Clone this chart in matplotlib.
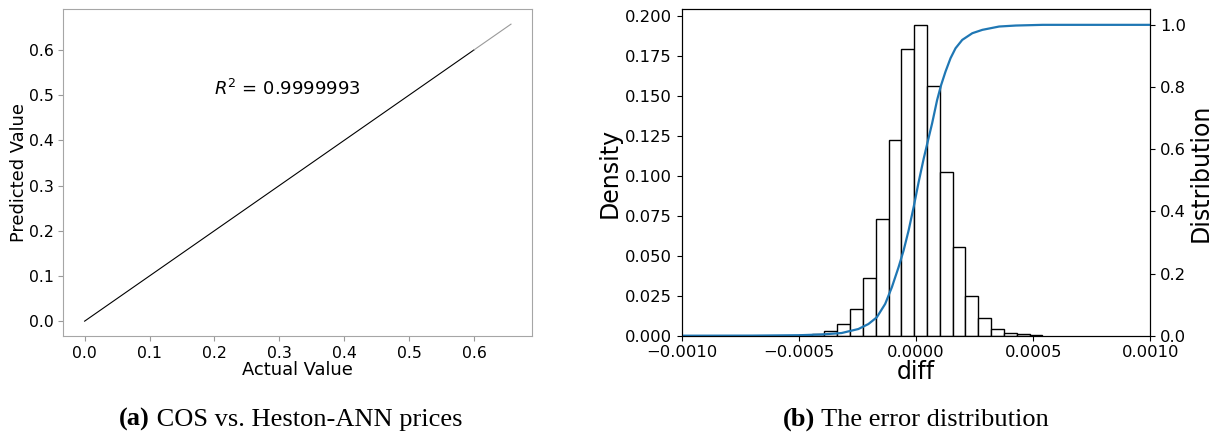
import matplotlib
matplotlib.use("Agg")
import matplotlib.pyplot as plt
import numpy as np

# ---- data: panel (a) ----
actual_value = [0.0, 0.1, 0.2, 0.3, 0.4, 0.5, 0.6, 0.657]
predicted_value = [0.0, 0.1, 0.2, 0.3, 0.4, 0.5, 0.6, 0.657]
r_squared = "0.9999993"
ticks_a = [0.0, 0.1, 0.2, 0.3, 0.4, 0.5, 0.6]

# ---- data: panel (b) ----
bin_edges = [-0.000500, -0.000445, -0.000391, -0.000336, -0.000281, -0.000227,
             -0.000172, -0.000117, -0.000062, -0.000008, 0.000047, 0.000102,
             0.000156, 0.000211, 0.000266, 0.000321, 0.000375, 0.000430,
             0.000485, 0.000539]
bin_heights = [0.0005, 0.0010, 0.0027, 0.0074, 0.0164, 0.0358, 0.0730, 0.1224,
               0.1793, 0.1944, 0.1562, 0.1022, 0.0556, 0.0250, 0.0109, 0.0040,
               0.0017, 0.0008, 0.0003]
cdf_x = [-0.0010, -0.0007, -0.0005, -0.0004, -0.0003176, -0.000246, -0.000203,
         -0.0001674, -0.0001316, -0.000103, -0.0000744, -0.0000529, -0.0000315,
         -0.0000100, 0.0000114, 0.0000329, 0.0000515, 0.0000687, 0.0000901,
         0.0001073, 0.0001259, 0.0001473, 0.0001688, 0.0001974, 0.0002404,
         0.0002833, 0.0003548, 0.0004263, 0.0005408, 0.0010]
cdf_y = [0.0, 0.0003, 0.0015, 0.004, 0.0086, 0.0215, 0.0376, 0.0591, 0.1022,
         0.1559, 0.2204, 0.2742, 0.3387, 0.4140, 0.4946, 0.5699, 0.6290, 0.6828,
         0.7581, 0.8065, 0.8495, 0.8925, 0.9247, 0.9516, 0.9731, 0.9839, 0.9946,
         0.9978, 1.0, 1.0]
xticks_b = [-0.0010, -0.0005, 0.0, 0.0005, 0.0010]
xticklabels_b = ["\u22120.0010", "\u22120.0005", "0.0000", "0.0005", "0.0010"]
yticks_b = [0.000, 0.025, 0.050, 0.075, 0.100, 0.125, 0.150, 0.175, 0.200]
yticks_b2 = [0.0, 0.2, 0.4, 0.6, 0.8, 1.0]

plt.rcParams['font.family'] = ['DejaVu Sans']
W, H = 1217, 432
fig = plt.figure(figsize=(W / 100, H / 100), dpi=100)

# ---------- panel (a) ----------
ax1 = fig.add_axes([63.3 / W, (H - 336) / H, 469 / W, 326.7 / H])
ax1.plot(actual_value[:-1], predicted_value[:-1], color='black', lw=0.8)
ax1.plot(actual_value[-2:], predicted_value[-2:], color='#9a9a9a', lw=0.8)
ax1.text(0.2, 0.5, r"$R^2$ = " + r_squared, fontsize=13, ha='left', va='baseline')
ax1.set_xticks(ticks_a)
ax1.set_yticks(ticks_a)
ax1.tick_params(labelsize=11.3, color='#9a9a9a', labelcolor='black')
for s in ax1.spines.values():
    s.set_color('#a6a6a6')
ax1.set_xlabel("Actual Value", fontsize=12.9, labelpad=0)
ax1.set_ylabel("Predicted Value", fontsize=12.9, labelpad=0.5)

# ---------- panel (b) ----------
ax2 = fig.add_axes([681.7 / W, (H - 335.7) / H, 468.6 / W, 326.4 / H])
edges = np.array(bin_edges)
ax2.bar(edges[:-1], bin_heights, width=np.diff(edges), align='edge',
        facecolor='white', edgecolor='black', linewidth=1.0)
ax2.set_xlim(-0.0010, 0.0010)
ax2.set_ylim(0, 0.2042)
ax2.set_xticks(xticks_b)
ax2.set_xticklabels(xticklabels_b)
ax2.set_yticks(yticks_b)
ax2.set_yticklabels([f"{v:.3f}" for v in yticks_b])
ax2.tick_params(labelsize=11.8)
ax2.set_xlabel("diff", fontsize=17, labelpad=0)
ax2.set_ylabel("Density", fontsize=17, labelpad=2)

ax3 = ax2.twinx()
ax3.plot(cdf_x, cdf_y, color='#1f77b4', lw=1.6)
ax3.set_ylim(0, 1.05)
ax3.set_yticks(yticks_b2)
ax3.tick_params(labelsize=11.8)
ax3.set_ylabel("Distribution", fontsize=17, labelpad=2)

# ---------- captions (bold prefix + regular rest, centred under each panel) ----------
cap_font = ['Liberation Serif', 'DejaVu Serif']
cap_y = (H - 426) / H


def caption(xc, bold, rest):
    t1 = fig.text(0, cap_y, bold, fontsize=19, family=cap_font,
                  fontweight='bold', ha='left', va='baseline')
    t2 = fig.text(0, cap_y, " " + rest, fontsize=19, family=cap_font,
                  ha='left', va='baseline')
    fig.canvas.draw()
    r = fig.canvas.get_renderer()
    w1 = t1.get_window_extent(r).width
    w2 = t2.get_window_extent(r).width
    x0 = xc - (w1 + w2) / 2
    t1.set_x(x0 / W)
    t2.set_x((x0 + w1) / W)


caption(291, "(a)", "COS vs. Heston-ANN prices")
caption(916, "(b)", "The error distribution")

fig.savefig("out.png", dpi=100)
